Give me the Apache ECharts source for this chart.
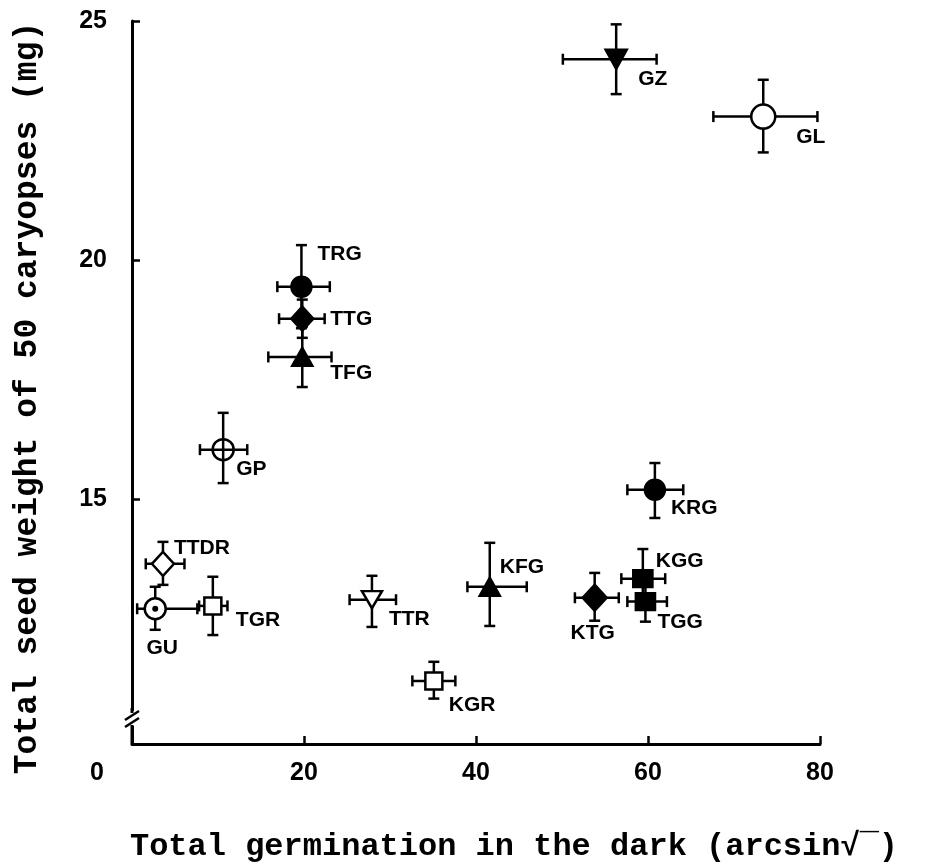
<!DOCTYPE html>
<html><head><meta charset="utf-8">
<script src="https://cdn.jsdelivr.net/npm/echarts@6/dist/echarts.min.js"></script>
<style>html,body{margin:0;padding:0;background:#fff}#c{width:927px;height:867px}</style>
</head><body><div id="c"></div>
<script>
// ---- data ----
const names      = ['GZ','GL','TRG','TTG','TFG','GP','TTDR','GU','TGR','TTR','KGR','KFG','KRG','KTG','KGG','TGG'];
const germination= [56.3, 73.4, 19.7, 19.8, 19.8, 10.6, 3.6, 2.7, 9.4, 27.9, 35.1, 41.6, 60.8, 53.8, 59.4, 59.7];
const seedWeight = [24.2, 23.0, 19.44, 18.77, 17.97, 16.03, 13.64, 12.7, 12.76, 12.89, 11.19, 13.16, 15.19, 12.93, 13.33, 12.85];
const germLow    = [50.1, 67.6, 16.9, 17.1, 15.85, 7.9, 1.6, 0.6, 7.8, 25.3, 32.6, 39.0, 57.6, 51.5, 56.9, 57.6];
const germHigh   = [61.0, 79.7, 23.0, 22.4, 23.2, 13.4, 6.1, 7.6, 11.1, 30.7, 37.6, 45.9, 64.1, 56.6, 62.0, 62.2];
const weightLow  = [23.47, 22.25, 18.57, 18.37, 17.34, 15.33, 13.2, 12.26, 12.15, 12.32, 10.82, 12.34, 14.6, 12.45, 12.71, 12.43];
const weightHigh = [24.93, 23.77, 20.31, 19.17, 18.6, 16.8, 14.1, 13.16, 13.37, 13.39, 11.59, 14.08, 15.75, 13.45, 13.95, 13.27];
const xTicks = [20, 40, 60, 80];
const yTicks = [15, 20, 25];
const xTitle = 'Total germination in the dark (arcsin\u221A\u203E)';
const yTitle = 'Total seed weight of 50 caryopses (mg)';

// ---- styles ----
const DOWN_TRI = 'path://M0,0 L20,0 L10,18 Z';
const markerStyle = {
  GZ:  {symbol: DOWN_TRI, size: [21, 19], fill: '#000', dx: 22, dy: 20},
  GL:  {symbol: 'circle', size: 24, fill: '#fff', dx: 33, dy: 21},
  TRG: {symbol: 'circle', size: 20, fill: '#000', dx: 16, dy: -32},
  TTG: {symbol: 'diamond', size: [22, 24], fill: '#000', dx: 28, dy: 0},
  TFG: {symbol: 'triangle', size: [20, 18], fill: '#000', dx: 28, dy: 16},
  GP:  {symbol: 'circle', size: 21, fill: 'rgba(0,0,0,0)', dx: 13, dy: 20},
  TTDR:{symbol: 'diamond', size: [22, 24], fill: '#fff', dx: 11, dy: -16},
  GU:  {symbol: 'circle', size: 21, fill: '#fff', dot: true, dx: 7, dy: 39, align: 'center'},
  TGR: {symbol: 'rect', size: 17, fill: '#fff', dx: 23, dy: 14},
  TTR: {symbol: DOWN_TRI, size: [20, 17], fill: '#fff', dx: 17, dy: 20},
  KGR: {symbol: 'rect', size: 17, fill: '#fff', dx: 15, dy: 24},
  KFG: {symbol: 'triangle', size: [20, 18], fill: '#000', dx: 10, dy: -20},
  KRG: {symbol: 'circle', size: 20, fill: '#000', dx: 16, dy: 18},
  KTG: {symbol: 'diamond', size: [24, 26], fill: '#000', dx: -2, dy: 35, align: 'center'},
  KGG: {symbol: 'rect', size: [19, 17], fill: '#000', dx: 13, dy: -17},
  TGG: {symbol: 'rect', size: [19, 17], fill: '#000', dx: 12, dy: 21}
};

const LABEL_FONT = '"Liberation Sans", Arial, sans-serif';
const MONO = '"Liberation Mono", "DejaVu Sans Mono", monospace';

const errData = names.map((n, i) => [germination[i], seedWeight[i], germLow[i], germHigh[i], weightLow[i], weightHigh[i]]);

const pointData = names.map((n, i) => {
  const s = markerStyle[n];
  return {
    name: n,
    value: [germination[i], seedWeight[i]],
    symbol: s.symbol,
    symbolSize: s.size,
    itemStyle: {color: s.fill, borderColor: '#000', borderWidth: 2.5, opacity: 1},
    label: {
      show: true, formatter: n, position: 'inside',
      align: s.align || 'left', verticalAlign: 'middle',
      offset: [s.dx, s.dy],
      color: '#000', fontFamily: LABEL_FONT, fontWeight: 'bold', fontSize: 21
    }
  };
});

const dotData = names.filter(n => markerStyle[n].dot).map(n => {
  const i = names.indexOf(n);
  return [germination[i], seedWeight[i]];
});

const chart = echarts.init(document.getElementById('c'), null, {renderer: 'canvas'});

chart.setOption({
  backgroundColor: '#fff',
  animation: false,
  grid: {left: 132, right: 107, top: 21, bottom: 123},
  xAxis: {
    type: 'value', min: 0, max: 80, interval: 20,
    axisLine: {show: true, onZero: false, lineStyle: {color: '#000', width: 3}},
    axisTick: {show: true, inside: true, length: 8, lineStyle: {color: '#000', width: 2.5}},
    axisLabel: {
      show: true, margin: 17, color: '#000', fontFamily: LABEL_FONT, fontWeight: 'bold', fontSize: 25,
      formatter: v => (xTicks.indexOf(v) >= 0 ? String(v) : '')
    },
    splitLine: {show: false}
  },
  yAxis: {
    type: 'value', min: 9.87, max: 25,
    axisLine: {show: true, onZero: false, lineStyle: {color: '#000', width: 3}},
    axisTick: {show: true, inside: true, length: 8, customValues: yTicks, lineStyle: {color: '#000', width: 2.5}},
    axisLabel: {
      show: true, margin: 25, customValues: yTicks, color: '#000',
      fontFamily: LABEL_FONT, fontWeight: 'bold', fontSize: 25
    },
    splitLine: {show: false}
  },
  series: [
    {
      type: 'custom',
      z: 2,
      data: errData,
      encode: {x: 0, y: 1},
      renderItem: (params, api) => {
        const c = api.coord([api.value(0), api.value(1)]);
        const l = api.coord([api.value(2), api.value(1)]);
        const r = api.coord([api.value(3), api.value(1)]);
        const b = api.coord([api.value(0), api.value(4)]);
        const t = api.coord([api.value(0), api.value(5)]);
        const cap = 5.5;
        const st = {stroke: '#000', lineWidth: 2.5};
        const ln = (x1, y1, x2, y2) => ({type: 'line', shape: {x1, y1, x2, y2}, style: st});
        return {
          type: 'group',
          children: [
            ln(l[0], c[1], r[0], c[1]),
            ln(c[0], b[1], c[0], t[1]),
            ln(l[0], c[1] - cap, l[0], c[1] + cap),
            ln(r[0], c[1] - cap, r[0], c[1] + cap),
            ln(c[0] - cap, t[1], c[0] + cap, t[1]),
            ln(c[0] - cap, b[1], c[0] + cap, b[1])
          ]
        };
      }
    },
    {
      type: 'scatter',
      z: 3,
      itemStyle: {opacity: 1},
      data: pointData
    },
    {
      type: 'scatter',
      z: 4,
      symbol: 'circle',
      symbolSize: 6,
      itemStyle: {color: '#000', opacity: 1},
      data: dotData
    }
  ],
  graphic: [
    {type: 'rect', shape: {x: 124, y: 711, width: 16, height: 15}, style: {fill: '#fff'}, z: 100},
    {type: 'line', shape: {x1: 125, y1: 720, x2: 139, y2: 711}, style: {stroke: '#000', lineWidth: 2.5}, z: 101},
    {type: 'line', shape: {x1: 125, y1: 727, x2: 139, y2: 718}, style: {stroke: '#000', lineWidth: 2.5}, z: 101},
    {type: 'line', shape: {x1: 132, y1: 708, x2: 132, y2: 713}, style: {stroke: '#000', lineWidth: 3}, z: 101},
    {type: 'line', shape: {x1: 132, y1: 725, x2: 132, y2: 744}, style: {stroke: '#000', lineWidth: 3}, z: 101},
    {type: 'text', x: 97, y: 773, z: 100,
      style: {text: '0', fill: '#000', font: 'bold 25px ' + LABEL_FONT, textAlign: 'center', textVerticalAlign: 'middle'}},
    {type: 'text', x: 514, y: 847, z: 100,
      style: {text: xTitle, fill: '#000', font: 'bold 32px ' + MONO, textAlign: 'center', textVerticalAlign: 'middle'}},
    {type: 'text', x: 28, y: 398, rotation: Math.PI / 2, z: 100,
      style: {text: yTitle, fill: '#000', font: 'bold 33px ' + MONO, textAlign: 'center', textVerticalAlign: 'middle'}}
  ]
});
</script>
</body></html>
